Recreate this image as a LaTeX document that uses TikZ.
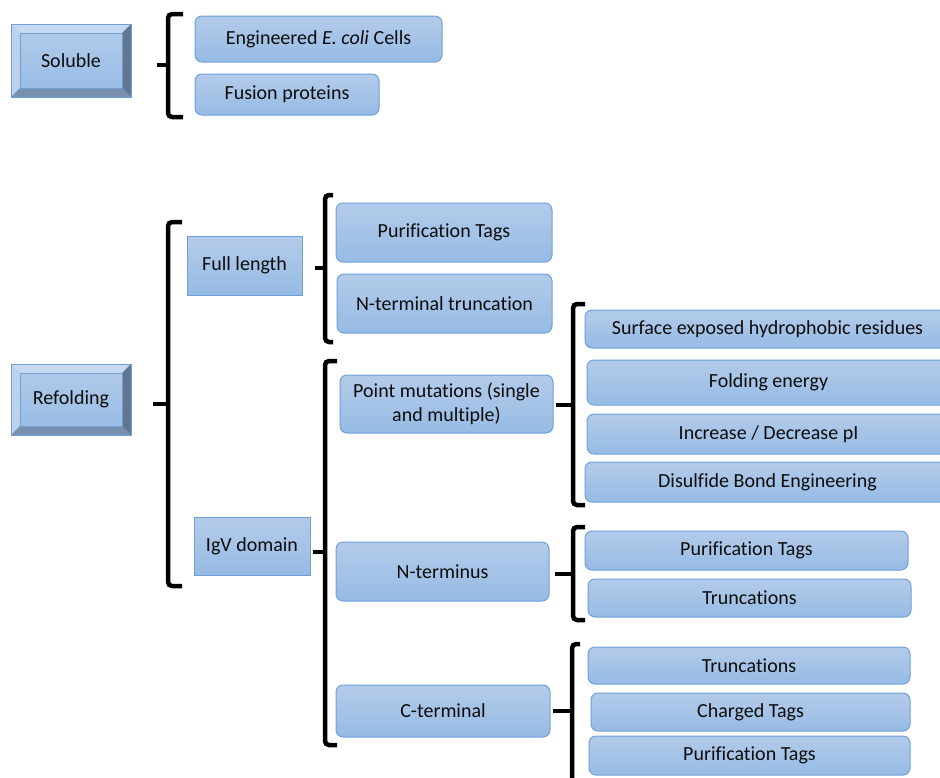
\documentclass[tikz,border=0pt]{standalone}
\usepackage{fontspec}
\setmainfont{Carlito}[Ligatures={NoCommon}]
\usetikzlibrary{calc}
\definecolor{boxtop}{RGB}{180,203,234}
\definecolor{boxbot}{RGB}{150,187,228}
\definecolor{boxline}{RGB}{112,160,216}
\definecolor{txt}{RGB}{13,13,13}
\definecolor{bvtop}{RGB}{200,218,241}
\definecolor{bvleft}{RGB}{188,209,237}
\definecolor{bvright}{RGB}{98,118,145}
\definecolor{bvbot}{RGB}{120,143,174}
\tikzset{
  base/.style={draw=boxline, line width=1pt, top color=boxtop, bottom color=boxbot,
    inner sep=0pt, outer sep=0pt, text=txt, font=\fontsize{20}{24}\selectfont, align=center},
  rbox/.style={base, rounded corners=7pt},
  sbox/.style={base},
  brk/.style={line width=4.5pt, black, rounded corners=4pt},
}
\newcommand{\bx}[7]{\node[#7, minimum width={(#4-#2)*1pt}, minimum height={(#5-#3)*1pt}] (#1) at ({(#2+#4)/2},{(#3+#5)/2}) {#6};}
% bracket: x, top, bottom, stub y, stub left, hook right
\newcommand{\mybrk}[6]{\draw[brk] (#6,#2) -- (#1,#2) -- (#1,#3) -- (#6,#3); \draw[brk, rounded corners=0pt] (#5,#4) -- (#1,#4);}
\newcommand{\bevel}[1]{%
  \fill[bvtop] (#1.north west) -- (#1.north east) -- ($(#1.north east)+(-9,9)$) -- ($(#1.north west)+(9,9)$) -- cycle;
  \fill[bvleft] (#1.north west) -- ($(#1.north west)+(9,9)$) -- ($(#1.south west)+(9,-9)$) -- (#1.south west) -- cycle;
  \fill[bvright] (#1.north east) -- ($(#1.north east)+(-9,9)$) -- ($(#1.south east)+(-9,-9)$) -- (#1.south east) -- cycle;
  \fill[bvbot] (#1.south west) -- ($(#1.south west)+(9,-9)$) -- ($(#1.south east)+(-9,-9)$) -- (#1.south east) -- cycle;
  \draw[boxline, line width=0.8pt] ($(#1.north west)+(9,9)$) rectangle ($(#1.south east)+(-9,-9)$);
  \draw[boxline, line width=1pt] (#1.north west) rectangle (#1.south east);
}
\begin{document}
\begin{tikzpicture}[x=1pt, y=-1pt]
\useasboundingbox (0,0) rectangle (940,777);
\clip (0,0) rectangle (940,777);
% level 0
\bx{sol}{11}{24}{131}{97}{Soluble}{sbox}
\bevel{sol}
\bx{ref}{11}{364}{131}{435}{Refolding}{sbox}
\bevel{ref}
% soluble branch
\bx{eng}{195}{16}{442}{62}{Engineered \textit{E. coli} Cells}{rbox}
\bx{fus}{195}{74}{379}{115}{Fusion proteins}{rbox}
% refolding branch
\bx{full}{187}{236}{302}{295}{Full length}{sbox}
\bx{igv}{194}{517}{310}{575}{IgV domain}{sbox}
\bx{pur1}{336}{203}{552}{262}{Purification Tags}{rbox}
\bx{ntt}{337}{274}{552}{333}{N-terminal truncation}{rbox}
\bx{pm}{340}{375}{553}{433}{Point mutations (single\\and multiple)}{rbox}
\bx{nter}{336}{542}{549}{601}{N-terminus}{rbox}
\bx{cter}{336}{685}{550}{737}{C-terminal}{rbox}
\bx{surf}{585}{310}{950}{348}{Surface exposed hydrophobic residues}{rbox}
\bx{fold}{587}{360}{950}{405}{Folding energy}{rbox}
\bx{pi}{587}{414}{950}{454}{Increase / Decrease pI}{rbox}
\bx{dis}{585}{462}{950}{502}{Disulfide Bond Engineering}{rbox}
\bx{pur2}{585}{531}{908}{570}{Purification Tags}{rbox}
\bx{tr1}{588}{579}{911}{617}{Truncations}{rbox}
\bx{tr2}{588}{647}{910}{684}{Truncations}{rbox}
\bx{chg}{591}{693}{910}{731}{Charged Tags}{rbox}
\bx{pur3}{589}{736}{910}{775}{Purification Tags}{rbox}
% brackets
\mybrk{168}{14}{117}{65}{157}{183}
\mybrk{168}{222}{586}{404}{153}{182}
\mybrk{325}{195}{342}{268}{315}{333}
\mybrk{325}{361}{745}{552}{313}{337}
\mybrk{573}{304}{505}{405}{556}{585}
\mybrk{573}{527}{620}{574}{555}{585}
\mybrk{572}{644}{790}{711}{553}{580}
\end{tikzpicture}
\end{document}
